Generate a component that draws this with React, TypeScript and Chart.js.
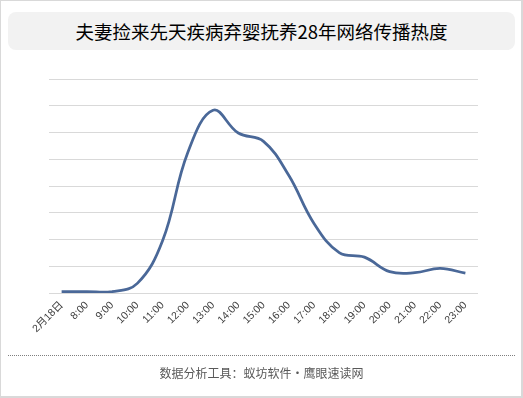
import React, { useEffect, useRef } from "react";
import { Chart, registerables } from "chart.js";

Chart.register(...registerables);

const TITLE = "夫妻捡来先天疾病弃婴抚养28年网络传播热度";
const FOOTER = "数据分析工具：蚁坊软件·鹰眼速读网";

const categories = [
  "2月18日", "8:00", "9:00", "10:00", "11:00", "12:00", "13:00", "14:00", "15:00",
  "16:00", "17:00", "18:00", "19:00", "20:00", "21:00", "22:00", "23:00",
];

const heatValues = [
  0.05, 0.05, 0.05, 0.36, 1.95, 5.25, 6.83, 5.98, 5.67,
  4.4, 2.6, 1.51, 1.34, 0.8, 0.76, 0.92, 0.74,
];

const yMax = 8;

export default function App() {
  const canvasRef = useRef<HTMLCanvasElement | null>(null);

  useEffect(() => {
    document.body.style.margin = "0";
    const ctx = canvasRef.current;
    if (!ctx) return;
    const chart = new Chart(ctx, {
      type: "line",
      data: {
        labels: categories,
        datasets: [
          {
            data: heatValues,
            borderColor: "#4A6898",
            borderWidth: 2.75,
            pointRadius: 0,
            tension: 0.4,
            fill: false,
          },
        ],
      },
      options: {
        animation: false,
        responsive: false,
        maintainAspectRatio: false,
        plugins: {
          legend: { display: false },
          tooltip: { enabled: false },
          title: { display: false },
        },
        layout: { padding: { left: 49, right: 45, top: 79, bottom: 45 } },
        scales: {
          x: {
            type: "category",
            offset: true,
            grid: { display: false, drawTicks: false },
            border: { display: false },
            afterFit: (scale: any) => {
              scale.height = 60;
            },
            ticks: {
              autoSkip: false,
              maxRotation: 45,
              minRotation: 45,
              padding: 6,
              color: "#404040",
              font: { family: "'Liberation Sans', 'Noto Sans CJK SC', sans-serif", size: 10.5 },
            },
          },
          y: {
            min: 0,
            max: yMax,
            ticks: { display: false, stepSize: 1 },
            grid: { color: "#d9d9d9", lineWidth: 1, drawTicks: false },
            border: { display: false },
            afterFit: (scale: any) => {
              scale.width = 0;
            },
          },
        },
      },
    });
    return () => chart.destroy();
  }, []);

  return (
    <div
      style={{
        position: "absolute",
        left: 0,
        top: 0,
        width: 523,
        height: 398,
        boxSizing: "border-box",
        borderTop: "1px solid #d9d9d9",
        borderLeft: "1px solid #d9d9d9",
        borderRight: "2px solid #d9d9d9",
        borderBottom: "2px solid #d9d9d9",
        background: "#fff",
        overflow: "hidden",
      }}
    >
      <div
        style={{
          position: "absolute",
          left: 7,
          top: 11,
          width: 507,
          height: 38,
          background: "#f2f2f2",
          borderRadius: 8,
          display: "flex",
          alignItems: "center",
          justifyContent: "center",
          fontFamily: "'Noto Sans CJK SC', sans-serif",
          fontSize: 18.5,
          color: "#000",
        }}
      >
        {TITLE}
      </div>
      <canvas
        ref={canvasRef}
        width={523}
        height={398}
        style={{ position: "absolute", left: -1, top: -1, width: 523, height: 398 }}
      />
      <div
        style={{
          position: "absolute",
          left: 7,
          top: 354,
          width: 507,
          borderTop: "1px dotted #7f7f7f",
        }}
      />
      <div
        style={{
          position: "absolute",
          left: 0,
          top: 363,
          width: 521,
          textAlign: "center",
          fontFamily: "'Noto Sans CJK SC', sans-serif",
          fontSize: 12,
          color: "#595959",
          lineHeight: "18px",
        }}
      >
        {FOOTER}
      </div>
    </div>
  );
}
